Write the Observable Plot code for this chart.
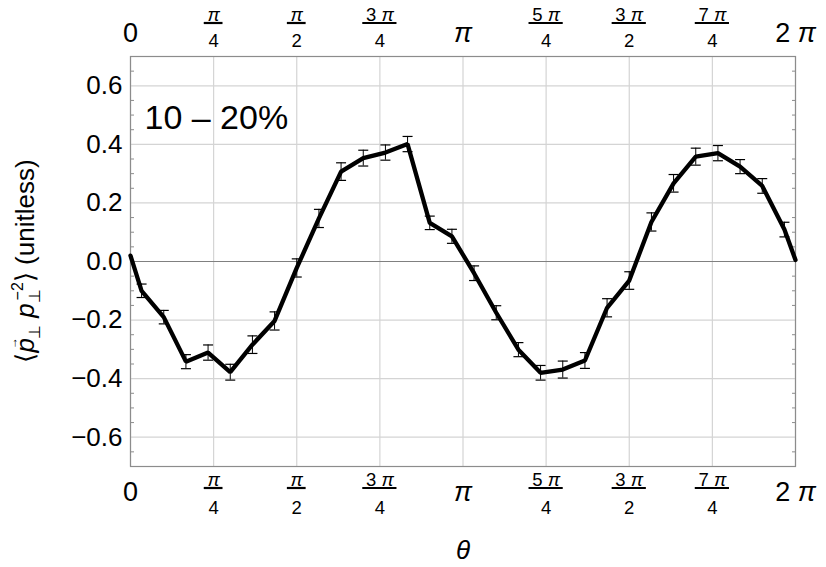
<!DOCTYPE html>
<html><head><meta charset="utf-8">
<script src="https://cdn.jsdelivr.net/npm/d3@7"></script>
<script src="https://cdn.jsdelivr.net/npm/@observablehq/plot@0.6"></script>
<style>
body{margin:0;background:#fff;}
#chart{position:relative;width:826px;height:567px;}
#chart svg{font-family:"Liberation Sans",Arial,sans-serif;}
</style></head><body><div id="chart"></div>
<script>
const PI = Math.PI;
// bin centres, in units of pi
const thetaOverPi = [0.0333,0.1,0.1667,0.2333,0.3,0.3667,0.4333,0.5,0.5667,0.6333,0.7,0.7667,0.8333,0.9,0.9667,
  1.0333,1.1,1.1667,1.2333,1.3,1.3667,1.4333,1.5,1.5667,1.6333,1.7,1.7667,1.8333,1.9,1.9667];
const meanValues = [-0.100,-0.190,-0.342,-0.311,-0.378,-0.284,-0.203,-0.022,0.147,0.307,0.353,0.372,0.401,0.132,0.086,
  -0.040,-0.175,-0.301,-0.380,-0.369,-0.338,-0.158,-0.065,0.135,0.267,0.358,0.370,0.324,0.258,0.109];
const errValues = [0.023,0.023,0.024,0.026,0.027,0.030,0.031,0.031,0.031,0.030,0.027,0.026,0.026,0.023,0.024,
  0.025,0.024,0.024,0.025,0.029,0.027,0.031,0.030,0.031,0.030,0.029,0.026,0.024,0.025,0.025];
const edgeThetaOverPi = [0, 2];
const edgeValues = [0.02, 0.005];
const yTickValues = [-0.6,-0.4,-0.2,0,0.2,0.4,0.6];
const yMinorValues = [-0.65,-0.55,-0.5,-0.45,-0.35,-0.3,-0.25,-0.15,-0.1,-0.05,0.05,0.1,0.15,0.25,0.3,0.35,0.45,0.5,0.55,0.65];
const xTickQuarters = [0,1,2,3,4,5,6,7,8];
const xTickNumerators = ["0","π","π","3 π","π","5 π","3 π","7 π","2 π"];
const xTickDenominators = ["","4","2","4","","4","2","4",""];
const centralityLabel = "10 – 20%";
const xLabel = "θ";

const W = 826, H = 567;
const M = {top: 56, right: 31, bottom: 101, left: 130};

const points = thetaOverPi.map((t, i) => ({x: t * PI, y: meanValues[i], lo: meanValues[i] - errValues[i], hi: meanValues[i] + errValues[i]}));
const lineData = [
  {x: edgeThetaOverPi[0] * PI, y: edgeValues[0]},
  ...points,
  {x: edgeThetaOverPi[1] * PI, y: edgeValues[1]}
];
const xTicks = xTickQuarters.map((q, i) => ({v: q * PI / 4, num: xTickNumerators[i], den: xTickDenominators[i]}));
const bigTicks = xTicks.filter(d => d.den === "");
const fracTicks = xTicks.filter(d => d.den !== "");

const capSymbol = {draw(ctx, size) { const r = Math.sqrt(size / Math.PI); ctx.moveTo(-r, 0); ctx.lineTo(r, 0); }};

const grid = "#d4d4d4", frameCol = "#8c8c8c";
const FR = 18.5;

const plot = Plot.plot({
  width: W, height: H,
  marginTop: M.top, marginRight: M.right, marginBottom: M.bottom, marginLeft: M.left,
  x: {domain: [0, 2 * PI], axis: null},
  y: {domain: [-0.7, 0.7], axis: null},
  style: {fontFamily: "'Liberation Sans', Arial, sans-serif", color: "#000", background: "#fff"},
  marks: [
    Plot.gridY(yTickValues, {stroke: grid, strokeOpacity: 1, strokeWidth: 1.2}),
    Plot.gridX(xTicks.map(d => d.v), {stroke: grid, strokeOpacity: 1, strokeWidth: 1.2}),
    Plot.ruleY([0], {stroke: "#808080", strokeWidth: 1.2}),
    Plot.frame({stroke: frameCol, strokeWidth: 1.2}),
    Plot.axisY(yMinorValues, {anchor: "left", tickSize: -4, tickFormat: () => "", stroke: frameCol}),
    Plot.axisY(yMinorValues, {anchor: "right", tickSize: -4, tickFormat: () => "", stroke: frameCol}),
    Plot.axisY(yTickValues, {anchor: "left", tickSize: 0, tickPadding: 8, fontSize: 26,
      tickFormat: d => (d < 0 ? "−" : "") + Math.abs(d).toFixed(1)}),
    Plot.ruleX(points, {x: "x", y1: "lo", y2: "hi", stroke: "#000", strokeWidth: 1}),
    Plot.dot(points, {x: "x", y: "lo", symbol: capSymbol, r: 5, stroke: "#000", strokeWidth: 1.2, fill: "none"}),
    Plot.dot(points, {x: "x", y: "hi", symbol: capSymbol, r: 5, stroke: "#000", strokeWidth: 1.2, fill: "none"}),
    Plot.line(lineData, {x: "x", y: "y", stroke: "#000", strokeWidth: 4.3, strokeLinejoin: "miter"}),
    Plot.text([centralityLabel], {frameAnchor: "top-left", dx: 14, dy: 72, textAnchor: "start", lineAnchor: "bottom", fontSize: 34, fill: "#000"}),
    Plot.text(bigTicks, {x: "v", text: "num", frameAnchor: "top", dy: -14.5, lineAnchor: "bottom", fontSize: 27, fill: "#000"}),
    Plot.text(bigTicks, {x: "v", text: "num", frameAnchor: "bottom", dy: 34, lineAnchor: "bottom", fontSize: 27, fill: "#000"}),
    Plot.text(fracTicks, {x: "v", text: "num", frameAnchor: "top", dy: -35.5, lineAnchor: "bottom", fontSize: FR, fill: "#000"}),
    Plot.text(fracTicks, {x: "v", text: "den", frameAnchor: "top", dy: -9.5, lineAnchor: "bottom", fontSize: FR, fill: "#000"}),
    Plot.text(fracTicks, {x: "v", text: "num", frameAnchor: "bottom", dy: 19, lineAnchor: "bottom", fontSize: FR, fill: "#000"}),
    Plot.text(fracTicks, {x: "v", text: "den", frameAnchor: "bottom", dy: 47, lineAnchor: "bottom", fontSize: FR, fill: "#000"}),
    Plot.text([xLabel], {frameAnchor: "bottom", dy: 92, lineAnchor: "bottom", fontSize: 26, fontStyle: "italic", fill: "#000"})
  ]
});
document.getElementById("chart").appendChild(plot);

const svg = d3.select(plot);
const xs = d3.scaleLinear().domain([0, 2 * PI]).range([M.left, W - M.right]);

// fraction bars
fracTicks.forEach(d => {
  const cx = xs(d.v);
  const tmp = svg.append("text").attr("font-size", FR).text(d.num);
  let tw = 10;
  try { tw = tmp.node().getComputedTextLength() || 10; } catch (e) {}
  tmp.remove();
  const w = Math.max(tw, 9) + 6;
  [M.top - 33, H - M.bottom + 22].forEach(y => {
    svg.append("line").attr("x1", cx - w / 2).attr("x2", cx + w / 2).attr("y1", y).attr("y2", y)
      .attr("stroke", "#000").attr("stroke-width", 2.2);
  });
});

// italic pi in tick labels
svg.selectAll("text").each(function() {
  const t = this;
  if (t.children.length === 0 && t.textContent.includes("π")) {
    const parts = t.textContent.split("π");
    t.textContent = "";
    parts.forEach((p, i) => {
      if (p) d3.select(t).append("tspan").text(p);
      if (i < parts.length - 1) d3.select(t).append("tspan").attr("font-style", "italic").text("π");
    });
  }
});

// y-axis label
const yl = svg.append("text")
  .attr("transform", `translate(34,${M.top + (H - M.top - M.bottom) / 2}) rotate(-90)`)
  .attr("text-anchor", "middle").attr("font-size", 26).attr("fill", "#000");
yl.append("tspan").text("⟨");
yl.append("tspan").attr("font-style", "italic").text("p");
yl.append("tspan").attr("font-size", 12).attr("dx", -11).attr("dy", -17).text("→");
yl.append("tspan").attr("font-size", 16).attr("dx", -2).attr("dy", 23).text("⊥");
yl.append("tspan").attr("dy", -6).text(" ");
yl.append("tspan").attr("font-style", "italic").text("p");
yl.append("tspan").attr("font-size", 16).attr("dy", 6).text("⊥");
yl.append("tspan").attr("font-size", 16).attr("dx", -11).attr("dy", -17).text("−2");
yl.append("tspan").attr("dy", 11).text("⟩ (unitless)");
</script></body></html>
